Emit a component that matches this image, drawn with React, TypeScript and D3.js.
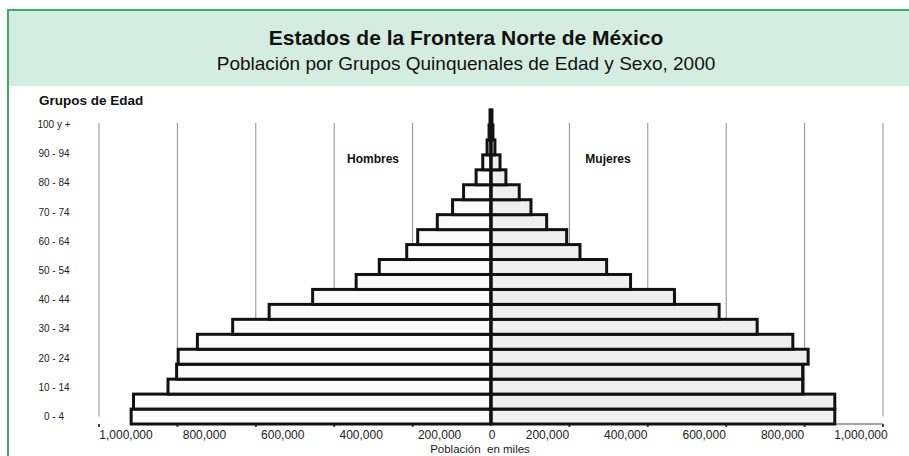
import React from "react";
import * as d3 from "d3";

const ageGroups = [
  "0-4", "5-9", "10-14", "15-19", "20-24", "25-29", "30-34", "35-39", "40-44",
  "45-49", "50-54", "55-59", "60-64", "65-69", "70-74", "75-79", "80-84",
  "85-89", "90-94", "95-99", "100+",
];
const hombres = [
  918000, 912000, 824000, 802000, 798000, 749000, 659000, 566000, 455000,
  344000, 285000, 215000, 187000, 137000, 98000, 70000, 38000, 21000, 10000,
  5000, 2500,
];
const mujeres = [
  877000, 877000, 795000, 795000, 809000, 770000, 679000, 582000, 468000,
  356000, 295000, 227000, 193000, 142000, 102000, 72000, 38000, 23000, 10000,
  5000, 2500,
];
const ageLabels = [
  "0 - 4", "10 - 14", "20 - 24", "30 - 34", "40 - 44", "50 - 54", "60 - 64",
  "70 - 74", "80 - 84", "90 - 94", "100 y +",
];
const tickValues = [200000, 400000, 600000, 800000, 1000000];

const title = "Estados de la Frontera Norte de México";
const subtitle = "Población por Grupos Quinquenales de Edad y Sexo, 2000";
const yTitle = "Grupos de Edad";
const xTitle = "Población  en miles";
const maleLabel = "Hombres";
const femaleLabel = "Mujeres";

const W = 909;
const H = 456;
const FONT = "'Liberation Sans', Arial, Helvetica, sans-serif";
const GREEN = "#3daa6b";
const HEADER_FILL = "#d5ede0";

export default function App() {
  const x = d3.scaleLinear().domain([-1000000, 1000000]).range([99, 883]);
  const y = d3
    .scaleBand<string>()
    .domain(ageGroups)
    .range([424, 110])
    .padding(0);
  const yLab = d3
    .scaleLinear()
    .domain([0, ageLabels.length - 1])
    .range([416.5, 124.5]);
  const fmt = d3.format(",");
  const cx = x(0);
  const bw = y.bandwidth();
  const gridTop = yLab(ageLabels.length - 1) - 1.5;
  const gridBottom = yLab(0);
  const axisY = y.range()[0];

  return (
    <svg
      width={W}
      height={H}
      viewBox={`0 0 ${W} ${H}`}
      style={{ position: "absolute", left: 0, top: 0, background: "#fff" }}
      fontFamily={FONT}
    >
      {/* header */}
      <rect x={8} y={10} width={W - 8} height={76} fill={HEADER_FILL} />
      <line x1={8} x2={W} y1={10} y2={10} stroke={GREEN} strokeWidth={2} />
      <line x1={8} x2={8} y1={9} y2={H} stroke={GREEN} strokeWidth={2} />
      <text x={466} y={45} textAnchor="middle" fontSize={21} fontWeight="bold" fill="#111">
        {title}
      </text>
      <text x={466} y={70} textAnchor="middle" fontSize={19} fill="#111">
        {subtitle}
      </text>

      {/* y title */}
      <text x={39} y={105} fontSize={13.5} fontWeight="bold" fill="#111">
        {yTitle}
      </text>

      {/* gridlines */}
      {tickValues.flatMap((v) => [-v, v]).map((v) => (
        <line
          key={`g${v}`}
          x1={x(v)}
          x2={x(v)}
          y1={gridTop}
          y2={gridBottom}
          stroke="#8a8a8a"
          strokeWidth={1}
        />
      ))}

      {/* axis line and ticks */}
      <line
        x1={x(-hombres[0])}
        x2={x(1000000)}
        y1={axisY}
        y2={axisY}
        stroke="#888"
        strokeWidth={1.5}
      />
      {tickValues.flatMap((v) => [-v, v]).map((v) => (
        <line
          key={`t${v}`}
          x1={x(v)}
          x2={x(v)}
          y1={axisY}
          y2={axisY + 3}
          stroke="#444"
          strokeWidth={2}
        />
      ))}

      {/* bars */}
      {ageGroups.map((g, i) => (
        <rect
          key={`m${g}`}
          x={x(-hombres[i])}
          y={y(g)}
          width={cx - x(-hombres[i])}
          height={bw}
          fill="#fbfbfb"
          stroke="#111"
          strokeWidth={3}
        />
      ))}
      {ageGroups.map((g, i) => (
        <rect
          key={`f${g}`}
          x={cx}
          y={y(g)}
          width={x(mujeres[i]) - cx}
          height={bw}
          fill="#efefef"
          stroke="#111"
          strokeWidth={3}
        />
      ))}
      <line
        x1={cx}
        x2={cx}
        y1={y.range()[1]}
        y2={axisY}
        stroke="#111"
        strokeWidth={3}
      />

      {/* age labels */}
      {ageLabels.map((l, i) => (
        <text
          key={l}
          x={54}
          y={yLab(i)}
          dy="0.35em"
          textAnchor="middle"
          fontSize={10}
          fill="#222"
        >
          {l}
        </text>
      ))}

      {/* x tick labels */}
      <text x={cx + 1} y={439} textAnchor="middle" fontSize={12} fill="#222">
        {fmt(0)}
      </text>
      {tickValues.map((v) => (
        <text key={`lm${v}`} x={x(-v) + 27} y={439} textAnchor="middle" fontSize={12} fill="#222">
          {fmt(v)}
        </text>
      ))}
      {tickValues.map((v) => (
        <text key={`lf${v}`} x={x(v) - 22} y={439} textAnchor="middle" fontSize={12} fill="#222">
          {fmt(v)}
        </text>
      ))}
      <text
        x={cx - 11}
        y={453}
        textAnchor="middle"
        fontSize={11.5}
        fill="#222"
        style={{ whiteSpace: "pre" }}
      >
        {xTitle}
      </text>

      {/* sex labels */}
      <text x={373} y={163} textAnchor="middle" fontSize={12} fontWeight="bold" fill="#111">
        {maleLabel}
      </text>
      <text x={608} y={163} textAnchor="middle" fontSize={12} fontWeight="bold" fill="#111">
        {femaleLabel}
      </text>
    </svg>
  );
}
